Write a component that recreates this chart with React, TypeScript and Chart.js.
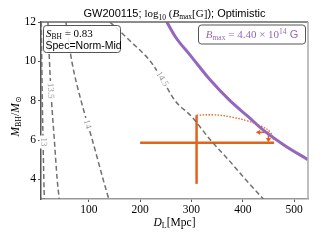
import React, { useEffect, useRef } from "react";
import { Chart, registerables } from "chart.js";
Chart.register(...registerables);

const X_TICKS = [100, 200, 300, 400, 500];
const Y_TICKS = [4, 6, 8, 10, 12];

// contour lines of log10(Bmax[G]) : [D_L, M_BH]
const C13 = [[7.5, 12], [8.5, 10], [9.5, 8], [11, 6], [12.5, 4], [13.5, 3]];
const C135 = [[20.5, 12], [23.5, 10], [27.5, 8], [33, 6], [38.5, 4], [42.5, 3]];
const C14 = [[55.5, 12], [67, 10], [85, 8], [107, 6], [128, 4], [139, 3]];
const C145 = [[141, 12], [182, 11], [220, 10], [245, 9], [268, 8], [300, 7.2], [337, 6], [372, 5], [405, 4], [440, 3]];
const CONTOURS = [C13, C135, C14, C145];
const CONTOUR_LABELS = ["13", "13.5", "14", "14.5"];
const LABEL_AT = [[12, 5.9], [25.5, 8.5], [97, 6.8], [243, 9.1]];

// Bmax boundary
const BMAX = [[252, 12], [270, 11.2], [297, 10.33], [335, 9.1], [375, 8.0], [410, 7.2], [440, 6.5], [480, 5.75], [527, 5.0]];

// event estimate with errors
const EVENT_D = 310;
const EVENT_M = 5.86;
const D_ERR = [200, 461];
const M_ERR = [3.77, 7.26];
const ARC = [[310, 7.26], [343, 7.28], [375, 7.18], [408, 6.98], [434, 6.72], [453, 6.42], [461, 5.95]];
const ARROW_H = [[450, 6.39], [431, 6.39]];
const ARROW_V = [[450, 6.39], [450, 6.02]];

const PURPLE = "#9467bd";
const ORANGE = "#e3621c";
const SANS = "'Liberation Sans', Arial, sans-serif";
const SERIF = "'Liberation Serif', 'DejaVu Serif', serif";

type Part = { t: string; f: string; dy?: number };

function drawRich(ctx: CanvasRenderingContext2D, parts: Part[], x: number, y: number, align: "left" | "center" | "right") {
  ctx.textAlign = "left";
  ctx.textBaseline = "alphabetic";
  let w = 0;
  for (const p of parts) { ctx.font = p.f; w += ctx.measureText(p.t).width; }
  let cx = align === "left" ? x : align === "center" ? x - w / 2 : x - w;
  for (const p of parts) {
    ctx.font = p.f;
    ctx.fillText(p.t, cx, y + (p.dy || 0));
    cx += ctx.measureText(p.t).width;
  }
}

function roundRect(ctx: CanvasRenderingContext2D, x: number, y: number, w: number, h: number, r: number) {
  ctx.beginPath();
  ctx.moveTo(x + r, y);
  ctx.lineTo(x + w - r, y);
  ctx.arcTo(x + w, y, x + w, y + r, r);
  ctx.lineTo(x + w, y + h - r);
  ctx.arcTo(x + w, y + h, x + w - r, y + h, r);
  ctx.lineTo(x + r, y + h);
  ctx.arcTo(x, y + h, x, y + h - r, r);
  ctx.lineTo(x, y + r);
  ctx.arcTo(x, y, x + r, y, r);
  ctx.closePath();
}

const pts = (a: number[][]) => a.map(([x, y]) => ({ x, y }));

const overlay = {
  id: "overlay",
  afterDatasetsDraw(chart: any) {
    const ctx: CanvasRenderingContext2D = chart.ctx;
    const xs = chart.scales.x;
    const ys = chart.scales.y;
    const a = chart.chartArea;
    ctx.save();
    // contour labels
    CONTOURS.forEach((c, i) => {
      const [lx, ly] = LABEL_AT[i];
      let k = 0;
      while (k < c.length - 2 && c[k + 1][1] > ly) k++;
      const p0x = xs.getPixelForValue(c[k][0]), p0y = ys.getPixelForValue(c[k][1]);
      const p1x = xs.getPixelForValue(c[k + 1][0]), p1y = ys.getPixelForValue(c[k + 1][1]);
      const ang = Math.atan2(p1y - p0y, p1x - p0x);
      const px = xs.getPixelForValue(lx), py = ys.getPixelForValue(ly);
      ctx.save();
      ctx.translate(px, py);
      ctx.rotate(ang);
      ctx.font = `9px ${SERIF}`;
      const tw = ctx.measureText(CONTOUR_LABELS[i]).width;
      ctx.fillStyle = "#fff";
      ctx.fillRect(-tw / 2 - 2, -4, tw + 4, 8);
      ctx.fillStyle = "#999";
      ctx.textAlign = "center";
      ctx.textBaseline = "middle";
      ctx.fillText(CONTOUR_LABELS[i], 0, 0);
      ctx.restore();
    });
    // top & right frame
    ctx.lineWidth = 1.5;
    ctx.strokeStyle = "#666";
    ctx.beginPath(); ctx.moveTo(a.left, a.top); ctx.lineTo(a.right, a.top); ctx.stroke();
    ctx.strokeStyle = "#aaa";
    ctx.beginPath(); ctx.moveTo(a.right, a.top); ctx.lineTo(a.right, a.bottom); ctx.stroke();

    // left info box
    roundRect(ctx, 43.5, 25.5, 77, 27, 3);
    ctx.fillStyle = "rgba(255,255,255,0.85)";
    ctx.fill();
    ctx.lineWidth = 1;
    ctx.strokeStyle = "#555";
    ctx.stroke();
    ctx.fillStyle = "#000";
    drawRich(ctx, [
      { t: "S", f: `italic 11px ${SERIF}` },
      { t: "BH", f: `7.5px ${SERIF}`, dy: 2 },
      { t: " = 0.83", f: `11px ${SERIF}` },
    ], 46, 37, "left");
    drawRich(ctx, [{ t: "Spec=Norm-Mid", f: `10.5px ${SANS}` }], 45.5, 48.5, "left");

    // right Bmax box
    roundRect(ctx, 198.5, 25, 107, 19, 3);
    ctx.fillStyle = "rgba(255,255,255,0.85)";
    ctx.fill();
    ctx.strokeStyle = "#555";
    ctx.stroke();
    ctx.fillStyle = PURPLE;
    drawRich(ctx, [
      { t: "B", f: `italic 11px ${SERIF}` },
      { t: "max", f: `7.5px ${SERIF}`, dy: 2 },
      { t: " = 4.40 × 10", f: `11px ${SERIF}` },
      { t: "14", f: `7.5px ${SERIF}`, dy: -4.5 },
      { t: " G", f: `11px ${SANS}` },
    ], 252, 38, "center");

    // title
    ctx.fillStyle = "#000";
    drawRich(ctx, [
      { t: "GW200115; ", f: `11px ${SANS}` },
      { t: "log", f: `11px ${SERIF}` },
      { t: "10", f: `7.5px ${SERIF}`, dy: 2.5 },
      { t: " (", f: `11px ${SERIF}` },
      { t: "B", f: `italic 11px ${SERIF}` },
      { t: "max", f: `7.5px ${SERIF}`, dy: 2 },
      { t: "[G]", f: `11px ${SERIF}` },
      { t: "); Optimistic", f: `11px ${SANS}` },
    ], (a.left + a.right) / 2, 17, "center");

    // x label
    drawRich(ctx, [
      { t: "D", f: `italic 11.5px ${SERIF}` },
      { t: "L", f: `8px ${SERIF}`, dy: 2 },
      { t: "[Mpc]", f: `11.5px ${SERIF}` },
    ], (a.left + a.right) / 2, 226, "center");

    // y label
    ctx.save();
    ctx.translate(19, (a.top + a.bottom) / 2 + 6);
    ctx.rotate(-Math.PI / 2);
    drawRich(ctx, [
      { t: "M", f: `italic 11.5px ${SERIF}` },
      { t: "BH", f: `8px ${SERIF}`, dy: 2 },
      { t: "/", f: `11.5px ${SERIF}` },
      { t: "M", f: `italic 11.5px ${SERIF}` },
      { t: "⊙", f: `8px 'DejaVu Sans', sans-serif`, dy: 2 },
    ], 0, 0, "center");
    ctx.restore();
    ctx.restore();
  },
};

export default function App() {
  const ref = useRef<HTMLCanvasElement>(null);
  useEffect(() => {
    const contourDs = CONTOURS.map((c) => ({
      data: pts(c),
      borderColor: "#707070",
      borderWidth: 1.5,
      borderDash: [5, 3],
      pointRadius: 0,
      cubicInterpolationMode: "monotone" as const,
      fill: false,
    }));
    const chart = new Chart(ref.current!, {
      type: "line",
      data: {
        datasets: [
          ...contourDs,
          { data: pts(BMAX), borderColor: PURPLE, borderWidth: 3, pointRadius: 0, cubicInterpolationMode: "monotone" as const },
          { data: pts([[D_ERR[0], EVENT_M], [D_ERR[1], EVENT_M]]), borderColor: ORANGE, borderWidth: 2.5, pointRadius: 0, borderCapStyle: "butt" },
          { data: pts([[EVENT_D, M_ERR[0]], [EVENT_D, M_ERR[1]]]), borderColor: ORANGE, borderWidth: 2.5, pointRadius: 0, borderCapStyle: "butt" },
          { data: pts(ARC), borderColor: ORANGE, borderWidth: 1.3, borderDash: [1.5, 1.5], pointRadius: 0, tension: 0.4 },
          { data: pts(ARROW_H), borderColor: ORANGE, borderWidth: 1.5, pointRadius: [0, 3], pointStyle: "triangle", rotation: 270, pointBackgroundColor: ORANGE, pointBorderColor: ORANGE, pointBorderWidth: 0 },
          { data: pts(ARROW_V), borderColor: ORANGE, borderWidth: 1.5, pointRadius: [0, 3], pointStyle: "triangle", rotation: 180, pointBackgroundColor: ORANGE, pointBorderColor: ORANGE, pointBorderWidth: 0 },
        ] as any,
      },
      options: {
        animation: false,
        responsive: false,
        devicePixelRatio: 1,
        layout: { padding: { left: 0, right: 12, top: 22, bottom: 0 } },
        plugins: { legend: { display: false }, tooltip: { enabled: false }, title: { display: false } },
        scales: {
          x: {
            type: "linear",
            min: 7,
            max: 527,
            afterBuildTicks: (s: any) => { s.ticks = X_TICKS.map((v) => ({ value: v })); },
            afterFit: (s: any) => { s.height = 41; },
            ticks: { color: "#000", font: { family: SERIF, size: 11.5 }, padding: 1, maxRotation: 0, callback: (v: any) => String(v) },
            grid: { drawOnChartArea: false, drawTicks: true, tickLength: 3, color: "#555" },
            border: { display: true, color: "#999", width: 1.5 },
          },
          y: {
            type: "linear",
            min: 3,
            max: 12,
            afterBuildTicks: (s: any) => { s.ticks = Y_TICKS.map((v) => ({ value: v })); },
            afterFit: (s: any) => { s.width = 41; },
            ticks: { color: "#000", font: { family: SERIF, size: 11.5 }, padding: 2, callback: (v: any) => String(v) },
            grid: { drawOnChartArea: false, drawTicks: true, tickLength: 3, color: "#555" },
            border: { display: true, color: "#555", width: 1.5 },
          },
        },
      },
      plugins: [overlay],
    });
    return () => chart.destroy();
  }, []);
  return (
    <div style={{ position: "fixed", left: 0, top: 0, width: 320, height: 240, background: "#fff" }}>
      <canvas ref={ref} width={320} height={240} />
    </div>
  );
}
